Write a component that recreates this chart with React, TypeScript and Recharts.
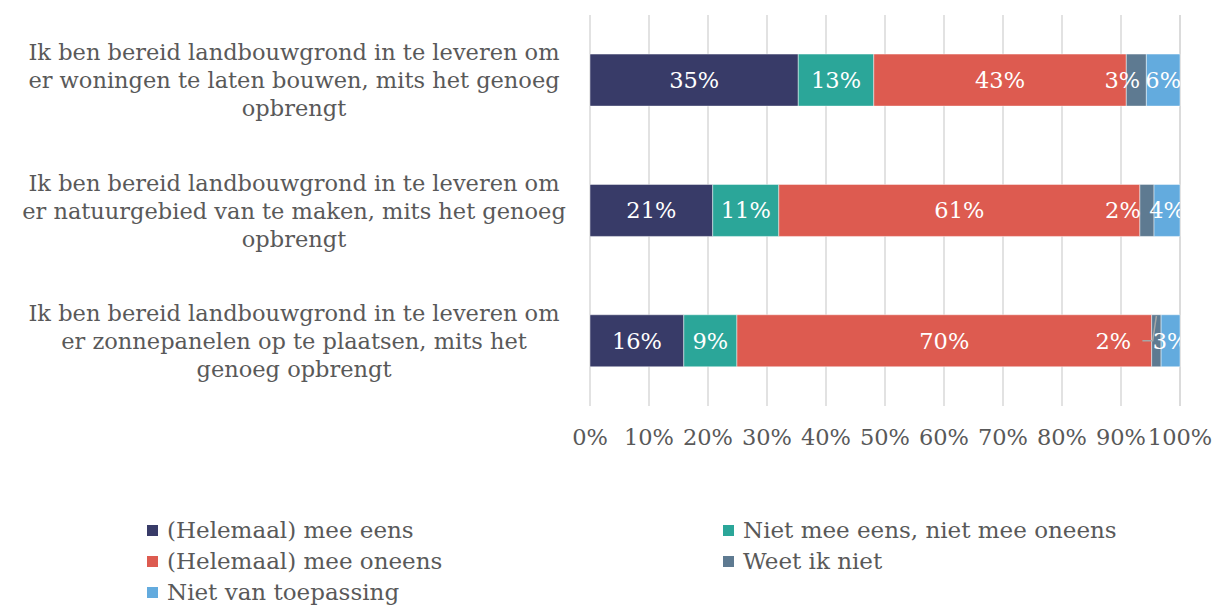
import React from 'react';
import { BarChart, Bar, XAxis, YAxis, CartesianGrid, LabelList, Legend } from 'recharts';

const categories = [
  'Ik ben bereid landbouwgrond in te leveren om er woningen te laten bouwen, mits het genoeg opbrengt',
  'Ik ben bereid landbouwgrond in te leveren om er natuurgebied van te maken, mits het genoeg opbrengt',
  'Ik ben bereid landbouwgrond in te leveren om er zonnepanelen op te plaatsen, mits het genoeg opbrengt',
];
const categoryLines = [
  ['Ik ben bereid landbouwgrond in te leveren om', 'er woningen te laten bouwen, mits het genoeg', 'opbrengt'],
  ['Ik ben bereid landbouwgrond in te leveren om', 'er natuurgebied van te maken, mits het genoeg', 'opbrengt'],
  ['Ik ben bereid landbouwgrond in te leveren om', 'er zonnepanelen op te plaatsen, mits het', 'genoeg opbrengt'],
];
const meeEens = [35.3, 20.8, 15.9];
const neutraal = [12.8, 11.2, 9.0];
const meeOneens = [42.8, 61.2, 70.3];
const weetNiet = [3.4, 2.4, 1.6];
const nietVanToepassing = [5.7, 4.4, 3.2];
const xTicks = [0, 10, 20, 30, 40, 50, 60, 70, 80, 90, 100];

const series = [
  { key: 'meeEens', name: '(Helemaal) mee eens', color: '#383B68', values: meeEens },
  { key: 'neutraal', name: 'Niet mee eens, niet mee oneens', color: '#2BA699', values: neutraal },
  { key: 'meeOneens', name: '(Helemaal) mee oneens', color: '#DD5B50', values: meeOneens },
  { key: 'weetNiet', name: 'Weet ik niet', color: '#5E7A91', values: weetNiet },
  { key: 'nvt', name: 'Niet van toepassing', color: '#63ABDE', values: nietVanToepassing },
];

const data = categories.map((c, i) => {
  const row: any = { category: c, idx: i };
  series.forEach((s) => { row[s.key] = s.values[i]; });
  return row;
});

const W = 1215;
const H = 606;
const MARGIN = { top: 15, right: 35, bottom: 0, left: 0 };
const PLOT_RIGHT = W - MARGIN.right;
const FONT = '"DejaVu Serif", serif';
const TEXT = '#595959';
const FS = 22.5;
const FS_LEGEND = 23;

const weetShift = [-14, -24, -43];

const makeLabel = (kind: string) => (props: any) => {
  const { x, y, width, height, value, index } = props;
  if (value == null) return null;
  const bx = Number(x), by = Number(y), bw = Number(width), bh = Number(height);
  let cx = bx + bw / 2;
  const cy = by + bh / 2;
  if (kind === 'weet') cx += weetShift[index] || 0;
  const id = `clip-${kind}-${index}`;
  return (
    <g>
      <defs>
        <clipPath id={id}>
          <rect x={0} y={0} width={PLOT_RIGHT} height={H} />
        </clipPath>
      </defs>
      {kind === 'weet' && index === 2 && (
        <polyline
          points={`${cx + 29},${cy} ${bx + 1},${cy} ${bx + bw / 2},${by + 1}`}
          stroke="#a6a6a6"
          strokeWidth={1.5}
          fill="none"
        />
      )}
      <text
        x={cx}
        y={cy}
        textAnchor="middle"
        dominantBaseline="central"
        fill="#ffffff"
        fontSize={FS}
        fontFamily={FONT}
        clipPath={`url(#${id})`}
      >
        {`${Math.round(Number(value))}%`}
      </text>
    </g>
  );
};

const CategoryTick = (props: any) => {
  const { x, y, payload } = props;
  const i = categories.indexOf(payload.value);
  const lines = categoryLines[i] || [payload.value];
  const lh = 28;
  const startY = y - ((lines.length - 1) * lh) / 2;
  return (
    <text x={x - 296} y={startY} textAnchor="middle" fill={TEXT} fontSize={FS} fontFamily={FONT}>
      {lines.map((l, k) => (
        <tspan key={k} x={x - 296} y={startY + k * lh} dominantBaseline="central">
          {l}
        </tspan>
      ))}
    </text>
  );
};

const LegendContent = () => {
  const cols = [147, 723];
  return (
    <div style={{ position: 'relative', width: W, height: 100, fontFamily: FONT, fontSize: FS_LEGEND, color: TEXT }}>
      {series.map((s, i) => {
        const col = i % 2;
        const row = Math.floor(i / 2);
        return (
          <div
            key={s.key}
            style={{
              position: 'absolute',
              left: cols[col],
              top: 9 + row * 31,
              height: 31,
              lineHeight: '31px',
              display: 'flex',
              alignItems: 'center',
              whiteSpace: 'nowrap',
            }}
          >
            <span style={{ display: 'inline-block', width: 11, height: 11, background: s.color, marginRight: 9 }} />
            <span>{s.name}</span>
          </div>
        );
      })}
    </div>
  );
};

export default function App() {
  return (
    <div style={{ position: 'absolute', left: 0, top: 0, width: W, height: H, background: '#fff' }}>
      <BarChart width={W} height={H} data={data} layout="vertical" margin={MARGIN} barCategoryGap="30%">
        <CartesianGrid horizontal={false} vertical stroke="#d9d9d9" strokeWidth={1.5} />
        <XAxis
          type="number"
          domain={[0, 100]}
          ticks={xTicks}
          interval={0}
          tickFormatter={(v: number) => `${v}%`}
          axisLine={false}
          tickLine={false}
          tickSize={0}
          tickMargin={23}
          height={100}
          tick={{ fill: TEXT, fontSize: FS, fontFamily: FONT }}
        />
        <YAxis
          type="category"
          dataKey="category"
          width={590}
          axisLine={false}
          tickLine={false}
          tickSize={0}
          tickMargin={0}
          tick={<CategoryTick />}
          interval={0}
        />
        <Legend verticalAlign="bottom" content={<LegendContent />} wrapperStyle={{ left: 0, width: W, height: 100 }} />
        {series.map((s) => (
          <Bar
            key={s.key}
            dataKey={s.key}
            name={s.name}
            stackId="a"
            fill={s.color}
            stroke="#ffffff"
            strokeOpacity={0.45}
            strokeWidth={1}
            isAnimationActive={false}
          >
            <LabelList
              dataKey={s.key}
              content={makeLabel(s.key === 'weetNiet' ? 'weet' : 'normal')}
            />
          </Bar>
        ))}
      </BarChart>
    </div>
  );
}
